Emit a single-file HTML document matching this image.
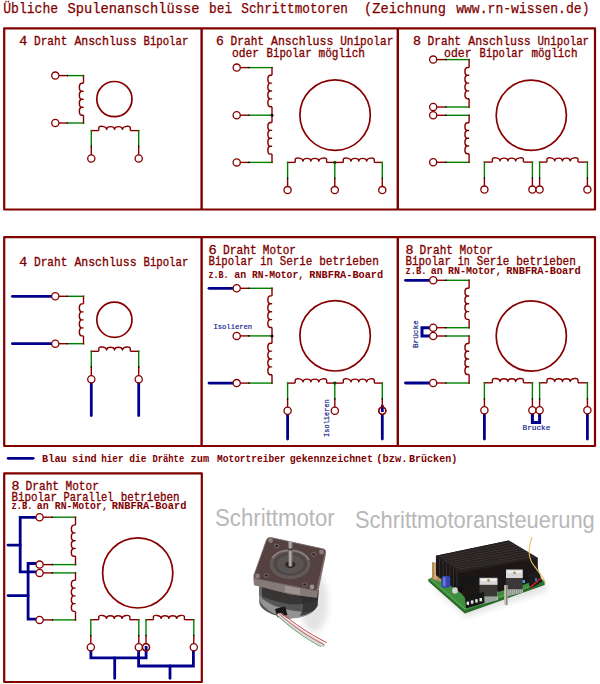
<!DOCTYPE html>
<html><head><meta charset="utf-8"><style>
html,body{margin:0;padding:0;background:#fff;width:600px;height:684px;overflow:hidden}
svg{display:block}
</style></head><body>
<svg width="600" height="684" viewBox="0 0 600 684">
<text x="3.2" y="13.2" font-family="'Liberation Mono', monospace" font-size="15.4" font-weight="normal" fill="#800000" stroke="#800000" stroke-width="0.25" textLength="55.0" lengthAdjust="spacingAndGlyphs" >Übliche</text>
<text x="67.6" y="13.2" font-family="'Liberation Mono', monospace" font-size="15.4" font-weight="normal" fill="#800000" stroke="#800000" stroke-width="0.25" textLength="131.9" lengthAdjust="spacingAndGlyphs" >Spulenanschlüsse</text>
<text x="209.0" y="13.2" font-family="'Liberation Mono', monospace" font-size="15.4" font-weight="normal" fill="#800000" stroke="#800000" stroke-width="0.25" textLength="23.2" lengthAdjust="spacingAndGlyphs" >bei</text>
<text x="241.3" y="13.2" font-family="'Liberation Mono', monospace" font-size="15.4" font-weight="normal" fill="#800000" stroke="#800000" stroke-width="0.25" textLength="106.7" lengthAdjust="spacingAndGlyphs" >Schrittmotoren</text>
<text x="364.1" y="13.2" font-family="'Liberation Mono', monospace" font-size="15.4" font-weight="normal" fill="#800000" stroke="#800000" stroke-width="0.25" textLength="81.9" lengthAdjust="spacingAndGlyphs" >(Zeichnung</text>
<text x="456.2" y="13.2" font-family="'Liberation Mono', monospace" font-size="15.4" font-weight="normal" fill="#800000" stroke="#800000" stroke-width="0.25" textLength="133.3" lengthAdjust="spacingAndGlyphs" >www.rn-wissen.de)</text>
<rect x="4.2" y="28.3" width="590.8" height="181.2" fill="none" stroke="#800000" stroke-width="2.2" stroke-linejoin="round"/>
<line x1="201.60" y1="28.30" x2="201.60" y2="209.50" stroke="#800000" stroke-width="2.4" stroke-linecap="butt"/>
<line x1="397.80" y1="28.30" x2="397.80" y2="209.50" stroke="#800000" stroke-width="2.4" stroke-linecap="butt"/>
<text x="19.2" y="45.1" font-family="'Liberation Mono', monospace" font-size="12.4" font-weight="normal" fill="#800000" stroke="#800000" stroke-width="0.32" textLength="8.0" lengthAdjust="spacingAndGlyphs" >4</text>
<text x="34.0" y="45.1" font-family="'Liberation Mono', monospace" font-size="12.4" font-weight="normal" fill="#800000" stroke="#800000" stroke-width="0.32" textLength="33.3" lengthAdjust="spacingAndGlyphs" >Draht</text>
<text x="74.4" y="45.1" font-family="'Liberation Mono', monospace" font-size="12.4" font-weight="normal" fill="#800000" stroke="#800000" stroke-width="0.32" textLength="62.2" lengthAdjust="spacingAndGlyphs" >Anschluss</text>
<text x="143.5" y="45.1" font-family="'Liberation Mono', monospace" font-size="12.4" font-weight="normal" fill="#800000" stroke="#800000" stroke-width="0.32" textLength="44.8" lengthAdjust="spacingAndGlyphs" >Bipolar</text>
<text x="215.9" y="45.2" font-family="'Liberation Mono', monospace" font-size="12.4" font-weight="normal" fill="#800000" stroke="#800000" stroke-width="0.32" textLength="7.8" lengthAdjust="spacingAndGlyphs" >6</text>
<text x="230.6" y="45.2" font-family="'Liberation Mono', monospace" font-size="12.4" font-weight="normal" fill="#800000" stroke="#800000" stroke-width="0.32" textLength="33.4" lengthAdjust="spacingAndGlyphs" >Draht</text>
<text x="271.0" y="45.2" font-family="'Liberation Mono', monospace" font-size="12.4" font-weight="normal" fill="#800000" stroke="#800000" stroke-width="0.32" textLength="62.3" lengthAdjust="spacingAndGlyphs" >Anschluss</text>
<text x="340.2" y="45.2" font-family="'Liberation Mono', monospace" font-size="12.4" font-weight="normal" fill="#800000" stroke="#800000" stroke-width="0.32" textLength="53.1" lengthAdjust="spacingAndGlyphs" >Unipolar</text>
<text x="231.9" y="57.0" font-family="'Liberation Mono', monospace" font-size="12.4" font-weight="normal" fill="#800000" stroke="#800000" stroke-width="0.32" textLength="27.2" lengthAdjust="spacingAndGlyphs" >oder</text>
<text x="266.5" y="57.0" font-family="'Liberation Mono', monospace" font-size="12.4" font-weight="normal" fill="#800000" stroke="#800000" stroke-width="0.32" textLength="45.1" lengthAdjust="spacingAndGlyphs" >Bipolar</text>
<text x="318.5" y="57.0" font-family="'Liberation Mono', monospace" font-size="12.4" font-weight="normal" fill="#800000" stroke="#800000" stroke-width="0.32" textLength="46.5" lengthAdjust="spacingAndGlyphs" >möglich</text>
<text x="413.0" y="45.4" font-family="'Liberation Mono', monospace" font-size="12.4" font-weight="normal" fill="#800000" stroke="#800000" stroke-width="0.32" textLength="8.0" lengthAdjust="spacingAndGlyphs" >8</text>
<text x="427.6" y="45.4" font-family="'Liberation Mono', monospace" font-size="12.4" font-weight="normal" fill="#800000" stroke="#800000" stroke-width="0.32" textLength="33.4" lengthAdjust="spacingAndGlyphs" >Draht</text>
<text x="468.2" y="45.4" font-family="'Liberation Mono', monospace" font-size="12.4" font-weight="normal" fill="#800000" stroke="#800000" stroke-width="0.32" textLength="62.6" lengthAdjust="spacingAndGlyphs" >Anschluss</text>
<text x="537.4" y="45.4" font-family="'Liberation Mono', monospace" font-size="12.4" font-weight="normal" fill="#800000" stroke="#800000" stroke-width="0.32" textLength="51.7" lengthAdjust="spacingAndGlyphs" >Unipolar</text>
<text x="444.1" y="57.4" font-family="'Liberation Mono', monospace" font-size="12.4" font-weight="normal" fill="#800000" stroke="#800000" stroke-width="0.32" textLength="27.5" lengthAdjust="spacingAndGlyphs" >oder</text>
<text x="479.6" y="57.4" font-family="'Liberation Mono', monospace" font-size="12.4" font-weight="normal" fill="#800000" stroke="#800000" stroke-width="0.32" textLength="44.3" lengthAdjust="spacingAndGlyphs" >Bipolar</text>
<text x="531.4" y="57.4" font-family="'Liberation Mono', monospace" font-size="12.4" font-weight="normal" fill="#800000" stroke="#800000" stroke-width="0.32" textLength="46.1" lengthAdjust="spacingAndGlyphs" >möglich</text>
<line x1="58.80" y1="75.60" x2="67.50" y2="75.60" stroke="#870000" stroke-width="1.4" stroke-linecap="butt"/>
<line x1="67.50" y1="75.60" x2="84.20" y2="75.60" stroke="#008000" stroke-width="1.4" stroke-linecap="butt"/>
<circle cx="67.50" cy="75.60" r="0.8" fill="#000"/>
<line x1="58.80" y1="123.00" x2="67.50" y2="123.00" stroke="#870000" stroke-width="1.4" stroke-linecap="butt"/>
<line x1="67.50" y1="123.00" x2="84.20" y2="123.00" stroke="#008000" stroke-width="1.4" stroke-linecap="butt"/>
<circle cx="67.50" cy="123.00" r="0.8" fill="#000"/>
<line x1="83.50" y1="74.90" x2="83.50" y2="83.20" stroke="#870000" stroke-width="1.4" stroke-linecap="butt"/>
<path d="M83.50,83.20 L81.50,83.20 C78.60,83.80 78.60,90.60 81.50,91.20 L83.10,91.20 L81.50,91.20 C78.60,91.80 78.60,98.60 81.50,99.20 L83.10,99.20 L81.50,99.20 C78.60,99.80 78.60,106.60 81.50,107.20 L83.10,107.20 L81.50,107.20 C78.60,107.80 78.60,114.60 81.50,115.20 L83.50,115.20" fill="none" stroke="#870000" stroke-width="1.4" stroke-linejoin="round"/>
<line x1="83.50" y1="115.20" x2="83.50" y2="123.70" stroke="#870000" stroke-width="1.4" stroke-linecap="butt"/>
<circle cx="55.30" cy="75.60" r="3.6" fill="#fff" stroke="#870000" stroke-width="1.3"/>
<circle cx="55.30" cy="123.00" r="3.6" fill="#fff" stroke="#870000" stroke-width="1.3"/>
<circle cx="114.40" cy="99.10" r="17.6" fill="none" stroke="#870000" stroke-width="1.7"/>
<line x1="90.60" y1="130.60" x2="98.80" y2="130.60" stroke="#870000" stroke-width="1.4" stroke-linecap="butt"/>
<path d="M98.80,130.60 L98.80,127.40 C99.20,125.70 106.27,125.70 106.67,129.30 C107.08,125.70 114.15,125.70 114.55,129.30 C114.95,125.70 122.02,125.70 122.42,129.30 C122.83,125.70 129.90,125.70 130.30,127.40 L130.30,130.60" fill="none" stroke="#870000" stroke-width="1.4" stroke-linejoin="round"/>
<line x1="130.30" y1="130.60" x2="139.40" y2="130.60" stroke="#870000" stroke-width="1.4" stroke-linecap="butt"/>
<line x1="91.30" y1="129.90" x2="91.30" y2="146.20" stroke="#008000" stroke-width="1.4" stroke-linecap="butt"/>
<line x1="91.30" y1="146.20" x2="91.30" y2="155.00" stroke="#870000" stroke-width="1.4" stroke-linecap="butt"/>
<circle cx="91.30" cy="146.20" r="0.8" fill="#000"/>
<circle cx="91.30" cy="158.50" r="3.6" fill="#fff" stroke="#870000" stroke-width="1.3"/>
<line x1="138.70" y1="129.90" x2="138.70" y2="146.20" stroke="#008000" stroke-width="1.4" stroke-linecap="butt"/>
<line x1="138.70" y1="146.20" x2="138.70" y2="155.00" stroke="#870000" stroke-width="1.4" stroke-linecap="butt"/>
<circle cx="138.70" cy="146.20" r="0.8" fill="#000"/>
<circle cx="138.70" cy="158.50" r="3.6" fill="#fff" stroke="#870000" stroke-width="1.3"/>
<line x1="240.20" y1="67.60" x2="249.00" y2="67.60" stroke="#870000" stroke-width="1.4" stroke-linecap="butt"/>
<line x1="249.00" y1="67.60" x2="272.70" y2="67.60" stroke="#008000" stroke-width="1.4" stroke-linecap="butt"/>
<circle cx="249.00" cy="67.60" r="0.8" fill="#000"/>
<line x1="240.20" y1="115.20" x2="249.00" y2="115.20" stroke="#870000" stroke-width="1.4" stroke-linecap="butt"/>
<line x1="249.00" y1="115.20" x2="272.70" y2="115.20" stroke="#008000" stroke-width="1.4" stroke-linecap="butt"/>
<circle cx="249.00" cy="115.20" r="0.8" fill="#000"/>
<line x1="240.20" y1="162.40" x2="249.00" y2="162.40" stroke="#870000" stroke-width="1.4" stroke-linecap="butt"/>
<line x1="249.00" y1="162.40" x2="272.70" y2="162.40" stroke="#008000" stroke-width="1.4" stroke-linecap="butt"/>
<circle cx="249.00" cy="162.40" r="0.8" fill="#000"/>
<line x1="272.00" y1="66.90" x2="272.00" y2="75.20" stroke="#870000" stroke-width="1.4" stroke-linecap="butt"/>
<path d="M272.00,75.20 L270.00,75.20 C267.10,75.80 267.10,82.50 270.00,83.10 L271.60,83.10 L270.00,83.10 C267.10,83.70 267.10,90.40 270.00,91.00 L271.60,91.00 L270.00,91.00 C267.10,91.60 267.10,98.30 270.00,98.90 L271.60,98.90 L270.00,98.90 C267.10,99.50 267.10,106.20 270.00,106.80 L272.00,106.80" fill="none" stroke="#870000" stroke-width="1.4" stroke-linejoin="round"/>
<line x1="272.00" y1="106.80" x2="272.00" y2="122.50" stroke="#870000" stroke-width="1.4" stroke-linecap="butt"/>
<path d="M272.00,122.50 L270.00,122.50 C267.10,123.10 267.10,129.80 270.00,130.40 L271.60,130.40 L270.00,130.40 C267.10,131.00 267.10,137.70 270.00,138.30 L271.60,138.30 L270.00,138.30 C267.10,138.90 267.10,145.60 270.00,146.20 L271.60,146.20 L270.00,146.20 C267.10,146.80 267.10,153.50 270.00,154.10 L272.00,154.10" fill="none" stroke="#870000" stroke-width="1.4" stroke-linejoin="round"/>
<line x1="272.00" y1="154.10" x2="272.00" y2="163.10" stroke="#870000" stroke-width="1.4" stroke-linecap="butt"/>
<circle cx="272.00" cy="115.20" r="1.5" fill="#000"/>
<circle cx="236.70" cy="67.60" r="3.6" fill="#fff" stroke="#870000" stroke-width="1.3"/>
<circle cx="236.70" cy="115.20" r="3.6" fill="#fff" stroke="#870000" stroke-width="1.3"/>
<circle cx="236.70" cy="162.40" r="3.6" fill="#fff" stroke="#870000" stroke-width="1.3"/>
<circle cx="335.10" cy="115.10" r="35.2" fill="none" stroke="#870000" stroke-width="1.7"/>
<line x1="286.90" y1="162.40" x2="295.20" y2="162.40" stroke="#870000" stroke-width="1.4" stroke-linecap="butt"/>
<path d="M295.20,162.40 L295.20,159.20 C295.60,157.50 302.65,157.50 303.05,161.10 C303.45,157.50 310.50,157.50 310.90,161.10 C311.30,157.50 318.35,157.50 318.75,161.10 C319.15,157.50 326.20,157.50 326.60,159.20 L326.60,162.40" fill="none" stroke="#870000" stroke-width="1.4" stroke-linejoin="round"/>
<line x1="326.60" y1="162.40" x2="343.30" y2="162.40" stroke="#870000" stroke-width="1.4" stroke-linecap="butt"/>
<path d="M343.30,162.40 L343.30,159.20 C343.70,157.50 350.65,157.50 351.05,161.10 C351.45,157.50 358.40,157.50 358.80,161.10 C359.20,157.50 366.15,157.50 366.55,161.10 C366.95,157.50 373.90,157.50 374.30,159.20 L374.30,162.40" fill="none" stroke="#870000" stroke-width="1.4" stroke-linejoin="round"/>
<line x1="374.30" y1="162.40" x2="383.00" y2="162.40" stroke="#870000" stroke-width="1.4" stroke-linecap="butt"/>
<circle cx="334.80" cy="162.40" r="1.5" fill="#000"/>
<line x1="287.60" y1="161.70" x2="287.60" y2="178.20" stroke="#008000" stroke-width="1.4" stroke-linecap="butt"/>
<line x1="287.60" y1="178.20" x2="287.60" y2="186.60" stroke="#870000" stroke-width="1.4" stroke-linecap="butt"/>
<circle cx="287.60" cy="178.20" r="0.8" fill="#000"/>
<circle cx="287.60" cy="190.10" r="3.6" fill="#fff" stroke="#870000" stroke-width="1.3"/>
<line x1="334.80" y1="161.70" x2="334.80" y2="178.20" stroke="#008000" stroke-width="1.4" stroke-linecap="butt"/>
<line x1="334.80" y1="178.20" x2="334.80" y2="186.60" stroke="#870000" stroke-width="1.4" stroke-linecap="butt"/>
<circle cx="334.80" cy="178.20" r="0.8" fill="#000"/>
<circle cx="334.80" cy="190.10" r="3.6" fill="#fff" stroke="#870000" stroke-width="1.3"/>
<line x1="382.30" y1="161.70" x2="382.30" y2="178.20" stroke="#008000" stroke-width="1.4" stroke-linecap="butt"/>
<line x1="382.30" y1="178.20" x2="382.30" y2="186.60" stroke="#870000" stroke-width="1.4" stroke-linecap="butt"/>
<circle cx="382.30" cy="178.20" r="0.8" fill="#000"/>
<circle cx="382.30" cy="190.10" r="3.6" fill="#fff" stroke="#870000" stroke-width="1.3"/>
<line x1="436.70" y1="59.60" x2="446.00" y2="59.60" stroke="#870000" stroke-width="1.4" stroke-linecap="butt"/>
<line x1="446.00" y1="59.60" x2="469.80" y2="59.60" stroke="#008000" stroke-width="1.4" stroke-linecap="butt"/>
<circle cx="446.00" cy="59.60" r="0.8" fill="#000"/>
<line x1="436.70" y1="107.00" x2="446.00" y2="107.00" stroke="#870000" stroke-width="1.4" stroke-linecap="butt"/>
<line x1="446.00" y1="107.00" x2="469.80" y2="107.00" stroke="#008000" stroke-width="1.4" stroke-linecap="butt"/>
<circle cx="446.00" cy="107.00" r="0.8" fill="#000"/>
<line x1="436.70" y1="115.30" x2="446.00" y2="115.30" stroke="#870000" stroke-width="1.4" stroke-linecap="butt"/>
<line x1="446.00" y1="115.30" x2="469.80" y2="115.30" stroke="#008000" stroke-width="1.4" stroke-linecap="butt"/>
<circle cx="446.00" cy="115.30" r="0.8" fill="#000"/>
<line x1="436.70" y1="162.30" x2="446.00" y2="162.30" stroke="#870000" stroke-width="1.4" stroke-linecap="butt"/>
<line x1="446.00" y1="162.30" x2="469.80" y2="162.30" stroke="#008000" stroke-width="1.4" stroke-linecap="butt"/>
<circle cx="446.00" cy="162.30" r="0.8" fill="#000"/>
<line x1="469.10" y1="58.90" x2="469.10" y2="67.50" stroke="#870000" stroke-width="1.4" stroke-linecap="butt"/>
<path d="M469.10,67.50 L467.10,67.50 C464.20,68.10 464.20,74.70 467.10,75.30 L468.70,75.30 L467.10,75.30 C464.20,75.90 464.20,82.50 467.10,83.10 L468.70,83.10 L467.10,83.10 C464.20,83.70 464.20,90.30 467.10,90.90 L468.70,90.90 L467.10,90.90 C464.20,91.50 464.20,98.10 467.10,98.70 L469.10,98.70" fill="none" stroke="#870000" stroke-width="1.4" stroke-linejoin="round"/>
<line x1="469.10" y1="98.70" x2="469.10" y2="107.70" stroke="#870000" stroke-width="1.4" stroke-linecap="butt"/>
<line x1="469.10" y1="114.60" x2="469.10" y2="122.80" stroke="#870000" stroke-width="1.4" stroke-linecap="butt"/>
<path d="M469.10,122.80 L467.10,122.80 C464.20,123.40 464.20,129.95 467.10,130.55 L468.70,130.55 L467.10,130.55 C464.20,131.15 464.20,137.70 467.10,138.30 L468.70,138.30 L467.10,138.30 C464.20,138.90 464.20,145.45 467.10,146.05 L468.70,146.05 L467.10,146.05 C464.20,146.65 464.20,153.20 467.10,153.80 L469.10,153.80" fill="none" stroke="#870000" stroke-width="1.4" stroke-linejoin="round"/>
<line x1="469.10" y1="153.80" x2="469.10" y2="163.00" stroke="#870000" stroke-width="1.4" stroke-linecap="butt"/>
<circle cx="433.20" cy="59.60" r="3.6" fill="#fff" stroke="#870000" stroke-width="1.3"/>
<circle cx="433.20" cy="107.00" r="3.6" fill="#fff" stroke="#870000" stroke-width="1.3"/>
<circle cx="433.20" cy="115.30" r="3.6" fill="#fff" stroke="#870000" stroke-width="1.3"/>
<circle cx="433.20" cy="162.30" r="3.6" fill="#fff" stroke="#870000" stroke-width="1.3"/>
<circle cx="531.30" cy="115.30" r="35.1" fill="none" stroke="#870000" stroke-width="1.7"/>
<line x1="483.70" y1="162.10" x2="492.40" y2="162.10" stroke="#870000" stroke-width="1.4" stroke-linecap="butt"/>
<path d="M492.40,162.10 L492.40,158.90 C492.80,157.20 499.75,157.20 500.15,160.80 C500.55,157.20 507.50,157.20 507.90,160.80 C508.30,157.20 515.25,157.20 515.65,160.80 C516.05,157.20 523.00,157.20 523.40,158.90 L523.40,162.10" fill="none" stroke="#870000" stroke-width="1.4" stroke-linejoin="round"/>
<line x1="523.40" y1="162.10" x2="533.10" y2="162.10" stroke="#870000" stroke-width="1.4" stroke-linecap="butt"/>
<line x1="538.90" y1="162.10" x2="547.00" y2="162.10" stroke="#870000" stroke-width="1.4" stroke-linecap="butt"/>
<path d="M547.00,162.10 L547.00,158.90 C547.40,157.20 554.35,157.20 554.75,160.80 C555.15,157.20 562.10,157.20 562.50,160.80 C562.90,157.20 569.85,157.20 570.25,160.80 C570.65,157.20 577.60,157.20 578.00,158.90 L578.00,162.10" fill="none" stroke="#870000" stroke-width="1.4" stroke-linejoin="round"/>
<line x1="578.00" y1="162.10" x2="588.10" y2="162.10" stroke="#870000" stroke-width="1.4" stroke-linecap="butt"/>
<line x1="484.40" y1="161.40" x2="484.40" y2="178.00" stroke="#008000" stroke-width="1.4" stroke-linecap="butt"/>
<line x1="484.40" y1="178.00" x2="484.40" y2="186.10" stroke="#870000" stroke-width="1.4" stroke-linecap="butt"/>
<circle cx="484.40" cy="178.00" r="0.8" fill="#000"/>
<circle cx="484.40" cy="189.60" r="3.6" fill="#fff" stroke="#870000" stroke-width="1.3"/>
<line x1="532.40" y1="161.40" x2="532.40" y2="178.00" stroke="#008000" stroke-width="1.4" stroke-linecap="butt"/>
<line x1="532.40" y1="178.00" x2="532.40" y2="186.10" stroke="#870000" stroke-width="1.4" stroke-linecap="butt"/>
<circle cx="532.40" cy="178.00" r="0.8" fill="#000"/>
<circle cx="532.40" cy="189.60" r="3.6" fill="#fff" stroke="#870000" stroke-width="1.3"/>
<line x1="539.60" y1="161.40" x2="539.60" y2="178.00" stroke="#008000" stroke-width="1.4" stroke-linecap="butt"/>
<line x1="539.60" y1="178.00" x2="539.60" y2="186.10" stroke="#870000" stroke-width="1.4" stroke-linecap="butt"/>
<circle cx="539.60" cy="178.00" r="0.8" fill="#000"/>
<circle cx="539.60" cy="189.60" r="3.6" fill="#fff" stroke="#870000" stroke-width="1.3"/>
<line x1="587.40" y1="161.40" x2="587.40" y2="178.00" stroke="#008000" stroke-width="1.4" stroke-linecap="butt"/>
<line x1="587.40" y1="178.00" x2="587.40" y2="186.10" stroke="#870000" stroke-width="1.4" stroke-linecap="butt"/>
<circle cx="587.40" cy="178.00" r="0.8" fill="#000"/>
<circle cx="587.40" cy="189.60" r="3.6" fill="#fff" stroke="#870000" stroke-width="1.3"/>
<rect x="4.2" y="237.2" width="590.8" height="208.8" fill="none" stroke="#800000" stroke-width="2.2" stroke-linejoin="round"/>
<line x1="201.60" y1="237.20" x2="201.60" y2="446.00" stroke="#800000" stroke-width="2.4" stroke-linecap="butt"/>
<line x1="397.80" y1="237.20" x2="397.80" y2="446.00" stroke="#800000" stroke-width="2.4" stroke-linecap="butt"/>
<text x="19.2" y="265.9" font-family="'Liberation Mono', monospace" font-size="12.4" font-weight="normal" fill="#800000" stroke="#800000" stroke-width="0.32" textLength="8.0" lengthAdjust="spacingAndGlyphs" >4</text>
<text x="34.0" y="265.9" font-family="'Liberation Mono', monospace" font-size="12.4" font-weight="normal" fill="#800000" stroke="#800000" stroke-width="0.32" textLength="33.3" lengthAdjust="spacingAndGlyphs" >Draht</text>
<text x="74.4" y="265.9" font-family="'Liberation Mono', monospace" font-size="12.4" font-weight="normal" fill="#800000" stroke="#800000" stroke-width="0.32" textLength="62.2" lengthAdjust="spacingAndGlyphs" >Anschluss</text>
<text x="143.5" y="265.9" font-family="'Liberation Mono', monospace" font-size="12.4" font-weight="normal" fill="#800000" stroke="#800000" stroke-width="0.32" textLength="44.8" lengthAdjust="spacingAndGlyphs" >Bipolar</text>
<text x="208.4" y="254.0" font-family="'Liberation Mono', monospace" font-size="12.4" font-weight="normal" fill="#800000" stroke="#800000" stroke-width="0.32" textLength="8.2" lengthAdjust="spacingAndGlyphs" >6</text>
<text x="223.0" y="254.0" font-family="'Liberation Mono', monospace" font-size="12.4" font-weight="normal" fill="#800000" stroke="#800000" stroke-width="0.32" textLength="33.8" lengthAdjust="spacingAndGlyphs" >Draht</text>
<text x="262.8" y="254.0" font-family="'Liberation Mono', monospace" font-size="12.4" font-weight="normal" fill="#800000" stroke="#800000" stroke-width="0.32" textLength="33.1" lengthAdjust="spacingAndGlyphs" >Motor</text>
<text x="208.5" y="265.2" font-family="'Liberation Mono', monospace" font-size="12.4" font-weight="normal" fill="#800000" stroke="#800000" stroke-width="0.32" textLength="44.8" lengthAdjust="spacingAndGlyphs" >Bipolar</text>
<text x="260.2" y="265.2" font-family="'Liberation Mono', monospace" font-size="12.4" font-weight="normal" fill="#800000" stroke="#800000" stroke-width="0.32" textLength="12.5" lengthAdjust="spacingAndGlyphs" >in</text>
<text x="279.7" y="265.2" font-family="'Liberation Mono', monospace" font-size="12.4" font-weight="normal" fill="#800000" stroke="#800000" stroke-width="0.32" textLength="32.6" lengthAdjust="spacingAndGlyphs" >Serie</text>
<text x="319.2" y="265.2" font-family="'Liberation Mono', monospace" font-size="12.4" font-weight="normal" fill="#800000" stroke="#800000" stroke-width="0.32" textLength="59.6" lengthAdjust="spacingAndGlyphs" >betrieben</text>
<text x="208.6" y="277.9" font-family="'Liberation Mono', monospace" font-size="10.2" font-weight="bold" fill="#800000" textLength="20.0" lengthAdjust="spacingAndGlyphs" >z.B.</text>
<text x="234.2" y="277.9" font-family="'Liberation Mono', monospace" font-size="10.2" font-weight="bold" fill="#800000" textLength="11.9" lengthAdjust="spacingAndGlyphs" >an</text>
<text x="251.9" y="277.9" font-family="'Liberation Mono', monospace" font-size="10.2" font-weight="bold" fill="#800000" textLength="52.1" lengthAdjust="spacingAndGlyphs" >RN-Motor,</text>
<text x="309.3" y="277.9" font-family="'Liberation Mono', monospace" font-size="10.2" font-weight="bold" fill="#800000" textLength="73.9" lengthAdjust="spacingAndGlyphs" >RNBFRA-Board</text>
<text x="405.5" y="254.2" font-family="'Liberation Mono', monospace" font-size="12.4" font-weight="normal" fill="#800000" stroke="#800000" stroke-width="0.32" textLength="8.0" lengthAdjust="spacingAndGlyphs" >8</text>
<text x="419.6" y="254.2" font-family="'Liberation Mono', monospace" font-size="12.4" font-weight="normal" fill="#800000" stroke="#800000" stroke-width="0.32" textLength="33.4" lengthAdjust="spacingAndGlyphs" >Draht</text>
<text x="459.5" y="254.2" font-family="'Liberation Mono', monospace" font-size="12.4" font-weight="normal" fill="#800000" stroke="#800000" stroke-width="0.32" textLength="33.4" lengthAdjust="spacingAndGlyphs" >Motor</text>
<text x="405.5" y="265.0" font-family="'Liberation Mono', monospace" font-size="12.4" font-weight="normal" fill="#800000" stroke="#800000" stroke-width="0.32" textLength="45.6" lengthAdjust="spacingAndGlyphs" >Bipolar</text>
<text x="457.8" y="265.0" font-family="'Liberation Mono', monospace" font-size="12.4" font-weight="normal" fill="#800000" stroke="#800000" stroke-width="0.32" textLength="12.0" lengthAdjust="spacingAndGlyphs" >in</text>
<text x="476.7" y="265.0" font-family="'Liberation Mono', monospace" font-size="12.4" font-weight="normal" fill="#800000" stroke="#800000" stroke-width="0.32" textLength="32.6" lengthAdjust="spacingAndGlyphs" >Serie</text>
<text x="516.2" y="265.0" font-family="'Liberation Mono', monospace" font-size="12.4" font-weight="normal" fill="#800000" stroke="#800000" stroke-width="0.32" textLength="59.6" lengthAdjust="spacingAndGlyphs" >betrieben</text>
<text x="405.6" y="274.0" font-family="'Liberation Mono', monospace" font-size="10.2" font-weight="bold" fill="#800000" textLength="20.9" lengthAdjust="spacingAndGlyphs" >z.B.</text>
<text x="430.7" y="274.0" font-family="'Liberation Mono', monospace" font-size="10.2" font-weight="bold" fill="#800000" textLength="11.9" lengthAdjust="spacingAndGlyphs" >an</text>
<text x="448.0" y="274.0" font-family="'Liberation Mono', monospace" font-size="10.2" font-weight="bold" fill="#800000" textLength="53.8" lengthAdjust="spacingAndGlyphs" >RN-Motor,</text>
<text x="506.3" y="274.0" font-family="'Liberation Mono', monospace" font-size="10.2" font-weight="bold" fill="#800000" textLength="74.4" lengthAdjust="spacingAndGlyphs" >RNBFRA-Board</text>
<path d="M12.40,296.30 L52.00,296.30" fill="none" stroke="#00008c" stroke-width="2.8" stroke-linecap="round" stroke-linejoin="round"/>
<path d="M12.40,343.70 L52.00,343.70" fill="none" stroke="#00008c" stroke-width="2.8" stroke-linecap="round" stroke-linejoin="round"/>
<path d="M91.30,381.70 L91.30,415.50" fill="none" stroke="#00008c" stroke-width="2.8" stroke-linecap="round" stroke-linejoin="round"/>
<path d="M138.70,381.70 L138.70,415.50" fill="none" stroke="#00008c" stroke-width="2.8" stroke-linecap="round" stroke-linejoin="round"/>
<path d="M209.00,288.30 L233.00,288.30" fill="none" stroke="#00008c" stroke-width="2.8" stroke-linecap="round" stroke-linejoin="round"/>
<path d="M209.00,383.10 L233.00,383.10" fill="none" stroke="#00008c" stroke-width="2.8" stroke-linecap="round" stroke-linejoin="round"/>
<path d="M287.60,411.00 L287.60,439.00" fill="none" stroke="#00008c" stroke-width="2.8" stroke-linecap="round" stroke-linejoin="round"/>
<path d="M382.30,406.00 L382.30,439.00" fill="none" stroke="#00008c" stroke-width="2.8" stroke-linecap="round" stroke-linejoin="round"/>
<path d="M405.50,280.30 L430.00,280.30" fill="none" stroke="#00008c" stroke-width="2.8" stroke-linecap="round" stroke-linejoin="round"/>
<path d="M405.50,383.00 L430.00,383.00" fill="none" stroke="#00008c" stroke-width="2.8" stroke-linecap="round" stroke-linejoin="round"/>
<path d="M430.00,327.70 L422.00,327.70 L422.00,336.00 L430.00,336.00" fill="none" stroke="#00008c" stroke-width="3.0" stroke-linecap="butt" stroke-linejoin="miter"/>
<path d="M484.40,411.00 L484.40,439.00" fill="none" stroke="#00008c" stroke-width="2.8" stroke-linecap="round" stroke-linejoin="round"/>
<path d="M587.40,411.00 L587.40,439.00" fill="none" stroke="#00008c" stroke-width="2.8" stroke-linecap="round" stroke-linejoin="round"/>
<path d="M532.40,412.00 L532.40,422.50 L539.60,422.50 L539.60,412.00" fill="none" stroke="#00008c" stroke-width="3.0" stroke-linecap="butt" stroke-linejoin="miter"/>
<line x1="58.80" y1="296.30" x2="67.50" y2="296.30" stroke="#870000" stroke-width="1.4" stroke-linecap="butt"/>
<line x1="67.50" y1="296.30" x2="84.20" y2="296.30" stroke="#008000" stroke-width="1.4" stroke-linecap="butt"/>
<circle cx="67.50" cy="296.30" r="0.8" fill="#000"/>
<line x1="58.80" y1="343.70" x2="67.50" y2="343.70" stroke="#870000" stroke-width="1.4" stroke-linecap="butt"/>
<line x1="67.50" y1="343.70" x2="84.20" y2="343.70" stroke="#008000" stroke-width="1.4" stroke-linecap="butt"/>
<circle cx="67.50" cy="343.70" r="0.8" fill="#000"/>
<line x1="83.50" y1="295.60" x2="83.50" y2="303.90" stroke="#870000" stroke-width="1.4" stroke-linecap="butt"/>
<path d="M83.50,303.90 L81.50,303.90 C78.60,304.50 78.60,311.30 81.50,311.90 L83.10,311.90 L81.50,311.90 C78.60,312.50 78.60,319.30 81.50,319.90 L83.10,319.90 L81.50,319.90 C78.60,320.50 78.60,327.30 81.50,327.90 L83.10,327.90 L81.50,327.90 C78.60,328.50 78.60,335.30 81.50,335.90 L83.50,335.90" fill="none" stroke="#870000" stroke-width="1.4" stroke-linejoin="round"/>
<line x1="83.50" y1="335.90" x2="83.50" y2="344.40" stroke="#870000" stroke-width="1.4" stroke-linecap="butt"/>
<circle cx="55.30" cy="296.30" r="3.6" fill="#fff" stroke="#870000" stroke-width="1.3"/>
<circle cx="55.30" cy="343.70" r="3.6" fill="#fff" stroke="#870000" stroke-width="1.3"/>
<circle cx="114.40" cy="319.80" r="17.6" fill="none" stroke="#870000" stroke-width="1.7"/>
<line x1="90.60" y1="351.30" x2="98.80" y2="351.30" stroke="#870000" stroke-width="1.4" stroke-linecap="butt"/>
<path d="M98.80,351.30 L98.80,348.10 C99.20,346.40 106.27,346.40 106.67,350.00 C107.08,346.40 114.15,346.40 114.55,350.00 C114.95,346.40 122.02,346.40 122.42,350.00 C122.83,346.40 129.90,346.40 130.30,348.10 L130.30,351.30" fill="none" stroke="#870000" stroke-width="1.4" stroke-linejoin="round"/>
<line x1="130.30" y1="351.30" x2="139.40" y2="351.30" stroke="#870000" stroke-width="1.4" stroke-linecap="butt"/>
<line x1="91.30" y1="350.60" x2="91.30" y2="366.90" stroke="#008000" stroke-width="1.4" stroke-linecap="butt"/>
<line x1="91.30" y1="366.90" x2="91.30" y2="375.70" stroke="#870000" stroke-width="1.4" stroke-linecap="butt"/>
<circle cx="91.30" cy="366.90" r="0.8" fill="#000"/>
<circle cx="91.30" cy="379.20" r="3.6" fill="#fff" stroke="#870000" stroke-width="1.3"/>
<line x1="138.70" y1="350.60" x2="138.70" y2="366.90" stroke="#008000" stroke-width="1.4" stroke-linecap="butt"/>
<line x1="138.70" y1="366.90" x2="138.70" y2="375.70" stroke="#870000" stroke-width="1.4" stroke-linecap="butt"/>
<circle cx="138.70" cy="366.90" r="0.8" fill="#000"/>
<circle cx="138.70" cy="379.20" r="3.6" fill="#fff" stroke="#870000" stroke-width="1.3"/>
<line x1="240.20" y1="288.30" x2="249.00" y2="288.30" stroke="#870000" stroke-width="1.4" stroke-linecap="butt"/>
<line x1="249.00" y1="288.30" x2="272.70" y2="288.30" stroke="#008000" stroke-width="1.4" stroke-linecap="butt"/>
<circle cx="249.00" cy="288.30" r="0.8" fill="#000"/>
<line x1="240.20" y1="335.90" x2="249.00" y2="335.90" stroke="#870000" stroke-width="1.4" stroke-linecap="butt"/>
<line x1="249.00" y1="335.90" x2="272.70" y2="335.90" stroke="#008000" stroke-width="1.4" stroke-linecap="butt"/>
<circle cx="249.00" cy="335.90" r="0.8" fill="#000"/>
<line x1="240.20" y1="383.10" x2="249.00" y2="383.10" stroke="#870000" stroke-width="1.4" stroke-linecap="butt"/>
<line x1="249.00" y1="383.10" x2="272.70" y2="383.10" stroke="#008000" stroke-width="1.4" stroke-linecap="butt"/>
<circle cx="249.00" cy="383.10" r="0.8" fill="#000"/>
<line x1="272.00" y1="287.60" x2="272.00" y2="295.90" stroke="#870000" stroke-width="1.4" stroke-linecap="butt"/>
<path d="M272.00,295.90 L270.00,295.90 C267.10,296.50 267.10,303.20 270.00,303.80 L271.60,303.80 L270.00,303.80 C267.10,304.40 267.10,311.10 270.00,311.70 L271.60,311.70 L270.00,311.70 C267.10,312.30 267.10,319.00 270.00,319.60 L271.60,319.60 L270.00,319.60 C267.10,320.20 267.10,326.90 270.00,327.50 L272.00,327.50" fill="none" stroke="#870000" stroke-width="1.4" stroke-linejoin="round"/>
<line x1="272.00" y1="327.50" x2="272.00" y2="343.20" stroke="#870000" stroke-width="1.4" stroke-linecap="butt"/>
<path d="M272.00,343.20 L270.00,343.20 C267.10,343.80 267.10,350.50 270.00,351.10 L271.60,351.10 L270.00,351.10 C267.10,351.70 267.10,358.40 270.00,359.00 L271.60,359.00 L270.00,359.00 C267.10,359.60 267.10,366.30 270.00,366.90 L271.60,366.90 L270.00,366.90 C267.10,367.50 267.10,374.20 270.00,374.80 L272.00,374.80" fill="none" stroke="#870000" stroke-width="1.4" stroke-linejoin="round"/>
<line x1="272.00" y1="374.80" x2="272.00" y2="383.80" stroke="#870000" stroke-width="1.4" stroke-linecap="butt"/>
<circle cx="272.00" cy="335.90" r="1.5" fill="#000"/>
<circle cx="236.70" cy="288.30" r="3.6" fill="#fff" stroke="#870000" stroke-width="1.3"/>
<circle cx="236.70" cy="335.90" r="3.6" fill="#fff" stroke="#870000" stroke-width="1.3"/>
<circle cx="236.70" cy="383.10" r="3.6" fill="#fff" stroke="#870000" stroke-width="1.3"/>
<circle cx="335.10" cy="335.80" r="35.2" fill="none" stroke="#870000" stroke-width="1.7"/>
<line x1="286.90" y1="383.10" x2="295.20" y2="383.10" stroke="#870000" stroke-width="1.4" stroke-linecap="butt"/>
<path d="M295.20,383.10 L295.20,379.90 C295.60,378.20 302.65,378.20 303.05,381.80 C303.45,378.20 310.50,378.20 310.90,381.80 C311.30,378.20 318.35,378.20 318.75,381.80 C319.15,378.20 326.20,378.20 326.60,379.90 L326.60,383.10" fill="none" stroke="#870000" stroke-width="1.4" stroke-linejoin="round"/>
<line x1="326.60" y1="383.10" x2="343.30" y2="383.10" stroke="#870000" stroke-width="1.4" stroke-linecap="butt"/>
<path d="M343.30,383.10 L343.30,379.90 C343.70,378.20 350.65,378.20 351.05,381.80 C351.45,378.20 358.40,378.20 358.80,381.80 C359.20,378.20 366.15,378.20 366.55,381.80 C366.95,378.20 373.90,378.20 374.30,379.90 L374.30,383.10" fill="none" stroke="#870000" stroke-width="1.4" stroke-linejoin="round"/>
<line x1="374.30" y1="383.10" x2="383.00" y2="383.10" stroke="#870000" stroke-width="1.4" stroke-linecap="butt"/>
<circle cx="334.80" cy="383.10" r="1.5" fill="#000"/>
<line x1="287.60" y1="382.40" x2="287.60" y2="398.90" stroke="#008000" stroke-width="1.4" stroke-linecap="butt"/>
<line x1="287.60" y1="398.90" x2="287.60" y2="407.30" stroke="#870000" stroke-width="1.4" stroke-linecap="butt"/>
<circle cx="287.60" cy="398.90" r="0.8" fill="#000"/>
<circle cx="287.60" cy="410.80" r="3.6" fill="#fff" stroke="#870000" stroke-width="1.3"/>
<line x1="334.80" y1="382.40" x2="334.80" y2="398.90" stroke="#008000" stroke-width="1.4" stroke-linecap="butt"/>
<line x1="334.80" y1="398.90" x2="334.80" y2="407.30" stroke="#870000" stroke-width="1.4" stroke-linecap="butt"/>
<circle cx="334.80" cy="398.90" r="0.8" fill="#000"/>
<circle cx="334.80" cy="410.80" r="3.6" fill="#fff" stroke="#870000" stroke-width="1.3"/>
<line x1="382.30" y1="382.40" x2="382.30" y2="398.90" stroke="#008000" stroke-width="1.4" stroke-linecap="butt"/>
<line x1="382.30" y1="398.90" x2="382.30" y2="407.30" stroke="#870000" stroke-width="1.4" stroke-linecap="butt"/>
<circle cx="382.30" cy="398.90" r="0.8" fill="#000"/>
<circle cx="382.30" cy="410.80" r="3.6" fill="#fff" stroke="#870000" stroke-width="1.3"/>
<line x1="436.70" y1="280.30" x2="446.00" y2="280.30" stroke="#870000" stroke-width="1.4" stroke-linecap="butt"/>
<line x1="446.00" y1="280.30" x2="469.80" y2="280.30" stroke="#008000" stroke-width="1.4" stroke-linecap="butt"/>
<circle cx="446.00" cy="280.30" r="0.8" fill="#000"/>
<line x1="436.70" y1="327.70" x2="446.00" y2="327.70" stroke="#870000" stroke-width="1.4" stroke-linecap="butt"/>
<line x1="446.00" y1="327.70" x2="469.80" y2="327.70" stroke="#008000" stroke-width="1.4" stroke-linecap="butt"/>
<circle cx="446.00" cy="327.70" r="0.8" fill="#000"/>
<line x1="436.70" y1="336.00" x2="446.00" y2="336.00" stroke="#870000" stroke-width="1.4" stroke-linecap="butt"/>
<line x1="446.00" y1="336.00" x2="469.80" y2="336.00" stroke="#008000" stroke-width="1.4" stroke-linecap="butt"/>
<circle cx="446.00" cy="336.00" r="0.8" fill="#000"/>
<line x1="436.70" y1="383.00" x2="446.00" y2="383.00" stroke="#870000" stroke-width="1.4" stroke-linecap="butt"/>
<line x1="446.00" y1="383.00" x2="469.80" y2="383.00" stroke="#008000" stroke-width="1.4" stroke-linecap="butt"/>
<circle cx="446.00" cy="383.00" r="0.8" fill="#000"/>
<line x1="469.10" y1="279.60" x2="469.10" y2="288.20" stroke="#870000" stroke-width="1.4" stroke-linecap="butt"/>
<path d="M469.10,288.20 L467.10,288.20 C464.20,288.80 464.20,295.40 467.10,296.00 L468.70,296.00 L467.10,296.00 C464.20,296.60 464.20,303.20 467.10,303.80 L468.70,303.80 L467.10,303.80 C464.20,304.40 464.20,311.00 467.10,311.60 L468.70,311.60 L467.10,311.60 C464.20,312.20 464.20,318.80 467.10,319.40 L469.10,319.40" fill="none" stroke="#870000" stroke-width="1.4" stroke-linejoin="round"/>
<line x1="469.10" y1="319.40" x2="469.10" y2="328.40" stroke="#870000" stroke-width="1.4" stroke-linecap="butt"/>
<line x1="469.10" y1="335.30" x2="469.10" y2="343.50" stroke="#870000" stroke-width="1.4" stroke-linecap="butt"/>
<path d="M469.10,343.50 L467.10,343.50 C464.20,344.10 464.20,350.65 467.10,351.25 L468.70,351.25 L467.10,351.25 C464.20,351.85 464.20,358.40 467.10,359.00 L468.70,359.00 L467.10,359.00 C464.20,359.60 464.20,366.15 467.10,366.75 L468.70,366.75 L467.10,366.75 C464.20,367.35 464.20,373.90 467.10,374.50 L469.10,374.50" fill="none" stroke="#870000" stroke-width="1.4" stroke-linejoin="round"/>
<line x1="469.10" y1="374.50" x2="469.10" y2="383.70" stroke="#870000" stroke-width="1.4" stroke-linecap="butt"/>
<circle cx="433.20" cy="280.30" r="3.6" fill="#fff" stroke="#870000" stroke-width="1.3"/>
<circle cx="433.20" cy="327.70" r="3.6" fill="#fff" stroke="#870000" stroke-width="1.3"/>
<circle cx="433.20" cy="336.00" r="3.6" fill="#fff" stroke="#870000" stroke-width="1.3"/>
<circle cx="433.20" cy="383.00" r="3.6" fill="#fff" stroke="#870000" stroke-width="1.3"/>
<circle cx="531.30" cy="336.00" r="35.1" fill="none" stroke="#870000" stroke-width="1.7"/>
<line x1="483.70" y1="382.80" x2="492.40" y2="382.80" stroke="#870000" stroke-width="1.4" stroke-linecap="butt"/>
<path d="M492.40,382.80 L492.40,379.60 C492.80,377.90 499.75,377.90 500.15,381.50 C500.55,377.90 507.50,377.90 507.90,381.50 C508.30,377.90 515.25,377.90 515.65,381.50 C516.05,377.90 523.00,377.90 523.40,379.60 L523.40,382.80" fill="none" stroke="#870000" stroke-width="1.4" stroke-linejoin="round"/>
<line x1="523.40" y1="382.80" x2="533.10" y2="382.80" stroke="#870000" stroke-width="1.4" stroke-linecap="butt"/>
<line x1="538.90" y1="382.80" x2="547.00" y2="382.80" stroke="#870000" stroke-width="1.4" stroke-linecap="butt"/>
<path d="M547.00,382.80 L547.00,379.60 C547.40,377.90 554.35,377.90 554.75,381.50 C555.15,377.90 562.10,377.90 562.50,381.50 C562.90,377.90 569.85,377.90 570.25,381.50 C570.65,377.90 577.60,377.90 578.00,379.60 L578.00,382.80" fill="none" stroke="#870000" stroke-width="1.4" stroke-linejoin="round"/>
<line x1="578.00" y1="382.80" x2="588.10" y2="382.80" stroke="#870000" stroke-width="1.4" stroke-linecap="butt"/>
<line x1="484.40" y1="382.10" x2="484.40" y2="398.70" stroke="#008000" stroke-width="1.4" stroke-linecap="butt"/>
<line x1="484.40" y1="398.70" x2="484.40" y2="406.80" stroke="#870000" stroke-width="1.4" stroke-linecap="butt"/>
<circle cx="484.40" cy="398.70" r="0.8" fill="#000"/>
<circle cx="484.40" cy="410.30" r="3.6" fill="#fff" stroke="#870000" stroke-width="1.3"/>
<line x1="532.40" y1="382.10" x2="532.40" y2="398.70" stroke="#008000" stroke-width="1.4" stroke-linecap="butt"/>
<line x1="532.40" y1="398.70" x2="532.40" y2="406.80" stroke="#870000" stroke-width="1.4" stroke-linecap="butt"/>
<circle cx="532.40" cy="398.70" r="0.8" fill="#000"/>
<circle cx="532.40" cy="410.30" r="3.6" fill="#fff" stroke="#870000" stroke-width="1.3"/>
<line x1="539.60" y1="382.10" x2="539.60" y2="398.70" stroke="#008000" stroke-width="1.4" stroke-linecap="butt"/>
<line x1="539.60" y1="398.70" x2="539.60" y2="406.80" stroke="#870000" stroke-width="1.4" stroke-linecap="butt"/>
<circle cx="539.60" cy="398.70" r="0.8" fill="#000"/>
<circle cx="539.60" cy="410.30" r="3.6" fill="#fff" stroke="#870000" stroke-width="1.3"/>
<line x1="587.40" y1="382.10" x2="587.40" y2="398.70" stroke="#008000" stroke-width="1.4" stroke-linecap="butt"/>
<line x1="587.40" y1="398.70" x2="587.40" y2="406.80" stroke="#870000" stroke-width="1.4" stroke-linecap="butt"/>
<circle cx="587.40" cy="398.70" r="0.8" fill="#000"/>
<circle cx="587.40" cy="410.30" r="3.6" fill="#fff" stroke="#870000" stroke-width="1.3"/>
<text x="213.4" y="328.9" font-family="'Liberation Mono', monospace" font-size="7.8" font-weight="normal" fill="#18248c" stroke="#18248c" stroke-width="0.2" textLength="38.8" lengthAdjust="spacingAndGlyphs" >Isolieren</text>
<text x="522.5" y="429.5" font-family="'Liberation Mono', monospace" font-size="7.8" font-weight="normal" fill="#18248c" stroke="#18248c" stroke-width="0.2" textLength="27.9" lengthAdjust="spacingAndGlyphs" >Brucke</text>
<text transform="translate(329.30,436.30) rotate(-90)" x="-0.59" y="0" font-family="Liberation Mono, monospace" font-size="7.8" fill="#18248c" stroke="#18248c" stroke-width="0.2" textLength="37.70" lengthAdjust="spacingAndGlyphs">Isolieren</text>
<text transform="translate(418.30,347.50) rotate(-90)" x="-0.51" y="0" font-family="Liberation Mono, monospace" font-size="7.8" fill="#18248c" stroke="#18248c" stroke-width="0.2" textLength="27.61" lengthAdjust="spacingAndGlyphs">Brücke</text>
<path d="M8.20,458.30 L33.20,458.30" fill="none" stroke="#00008c" stroke-width="2.8" stroke-linecap="round" stroke-linejoin="round"/>
<text x="42.1" y="462.4" font-family="'Liberation Mono', monospace" font-size="10.2" font-weight="bold" fill="#800000" textLength="24.7" lengthAdjust="spacingAndGlyphs" >Blau</text>
<text x="72.1" y="462.4" font-family="'Liberation Mono', monospace" font-size="10.2" font-weight="bold" fill="#800000" textLength="24.6" lengthAdjust="spacingAndGlyphs" >sind</text>
<text x="101.2" y="462.4" font-family="'Liberation Mono', monospace" font-size="10.2" font-weight="bold" fill="#800000" textLength="22.3" lengthAdjust="spacingAndGlyphs" >hier</text>
<text x="129.3" y="462.4" font-family="'Liberation Mono', monospace" font-size="10.2" font-weight="bold" fill="#800000" textLength="17.3" lengthAdjust="spacingAndGlyphs" >die</text>
<text x="152.4" y="462.4" font-family="'Liberation Mono', monospace" font-size="10.2" font-weight="bold" fill="#800000" textLength="31.8" lengthAdjust="spacingAndGlyphs" >Drähte</text>
<text x="190.6" y="462.4" font-family="'Liberation Mono', monospace" font-size="10.2" font-weight="bold" fill="#800000" textLength="18.6" lengthAdjust="spacingAndGlyphs" >zum</text>
<text x="217.0" y="462.4" font-family="'Liberation Mono', monospace" font-size="10.2" font-weight="bold" fill="#800000" textLength="68.6" lengthAdjust="spacingAndGlyphs" >Motortreiber</text>
<text x="289.8" y="462.4" font-family="'Liberation Mono', monospace" font-size="10.2" font-weight="bold" fill="#800000" textLength="83.1" lengthAdjust="spacingAndGlyphs" >gekennzeichnet</text>
<text x="376.3" y="462.4" font-family="'Liberation Mono', monospace" font-size="10.2" font-weight="bold" fill="#800000" textLength="31.1" lengthAdjust="spacingAndGlyphs" >(bzw.</text>
<text x="408.9" y="462.4" font-family="'Liberation Mono', monospace" font-size="10.2" font-weight="bold" fill="#800000" textLength="48.4" lengthAdjust="spacingAndGlyphs" >Brücken)</text>
<rect x="4.2" y="473.4" width="197.6" height="208.6" fill="none" stroke="#800000" stroke-width="2.2" stroke-linejoin="round"/>
<text x="11.5" y="489.6" font-family="'Liberation Mono', monospace" font-size="12.4" font-weight="normal" fill="#800000" stroke="#800000" stroke-width="0.32" textLength="8.0" lengthAdjust="spacingAndGlyphs" >8</text>
<text x="25.6" y="489.6" font-family="'Liberation Mono', monospace" font-size="12.4" font-weight="normal" fill="#800000" stroke="#800000" stroke-width="0.32" textLength="33.4" lengthAdjust="spacingAndGlyphs" >Draht</text>
<text x="65.5" y="489.6" font-family="'Liberation Mono', monospace" font-size="12.4" font-weight="normal" fill="#800000" stroke="#800000" stroke-width="0.32" textLength="33.4" lengthAdjust="spacingAndGlyphs" >Motor</text>
<text x="11.5" y="501.3" font-family="'Liberation Mono', monospace" font-size="12.4" font-weight="normal" fill="#800000" stroke="#800000" stroke-width="0.32" textLength="45.6" lengthAdjust="spacingAndGlyphs" >Bipolar</text>
<text x="63.4" y="501.3" font-family="'Liberation Mono', monospace" font-size="12.4" font-weight="normal" fill="#800000" stroke="#800000" stroke-width="0.32" textLength="50.1" lengthAdjust="spacingAndGlyphs" >Parallel</text>
<text x="120.7" y="501.3" font-family="'Liberation Mono', monospace" font-size="12.4" font-weight="normal" fill="#800000" stroke="#800000" stroke-width="0.32" textLength="58.9" lengthAdjust="spacingAndGlyphs" >betrieben</text>
<text x="11.6" y="509.4" font-family="'Liberation Mono', monospace" font-size="10.2" font-weight="bold" fill="#800000" textLength="20.9" lengthAdjust="spacingAndGlyphs" >z.B.</text>
<text x="36.7" y="509.4" font-family="'Liberation Mono', monospace" font-size="10.2" font-weight="bold" fill="#800000" textLength="11.9" lengthAdjust="spacingAndGlyphs" >an</text>
<text x="54.8" y="509.4" font-family="'Liberation Mono', monospace" font-size="10.2" font-weight="bold" fill="#800000" textLength="53.0" lengthAdjust="spacingAndGlyphs" >RN-Motor,</text>
<text x="111.8" y="509.4" font-family="'Liberation Mono', monospace" font-size="10.2" font-weight="bold" fill="#800000" textLength="74.7" lengthAdjust="spacingAndGlyphs" >RNBFRA-Board</text>
<path d="M36.00,517.40 L20.20,517.40 L20.20,571.80 L36.00,571.80" fill="none" stroke="#00008c" stroke-width="2.8" stroke-linecap="butt" stroke-linejoin="miter"/>
<path d="M8.00,545.10 L20.20,545.10" fill="none" stroke="#00008c" stroke-width="2.8" stroke-linecap="round" stroke-linejoin="round"/>
<path d="M36.00,563.50 L28.10,563.50 L28.10,619.10 L36.00,619.10" fill="none" stroke="#00008c" stroke-width="2.8" stroke-linecap="butt" stroke-linejoin="miter"/>
<path d="M8.00,595.60 L28.10,595.60" fill="none" stroke="#00008c" stroke-width="2.8" stroke-linecap="round" stroke-linejoin="round"/>
<path d="M90.90,650.00 L90.90,657.80 L146.10,657.80 L146.10,646.00" fill="none" stroke="#00008c" stroke-width="2.8" stroke-linecap="butt" stroke-linejoin="miter"/>
<path d="M114.70,657.80 L114.70,678.30" fill="none" stroke="#00008c" stroke-width="2.8" stroke-linecap="round" stroke-linejoin="round"/>
<path d="M138.60,649.00 L138.60,666.00 L193.40,666.00 L193.40,650.00" fill="none" stroke="#00008c" stroke-width="2.8" stroke-linecap="butt" stroke-linejoin="miter"/>
<path d="M170.00,666.00 L170.00,678.30" fill="none" stroke="#00008c" stroke-width="2.8" stroke-linecap="round" stroke-linejoin="round"/>
<line x1="43.10" y1="517.20" x2="52.40" y2="517.20" stroke="#870000" stroke-width="1.4" stroke-linecap="butt"/>
<line x1="52.40" y1="517.20" x2="76.20" y2="517.20" stroke="#008000" stroke-width="1.4" stroke-linecap="butt"/>
<circle cx="52.40" cy="517.20" r="0.8" fill="#000"/>
<line x1="43.10" y1="564.60" x2="52.40" y2="564.60" stroke="#870000" stroke-width="1.4" stroke-linecap="butt"/>
<line x1="52.40" y1="564.60" x2="76.20" y2="564.60" stroke="#008000" stroke-width="1.4" stroke-linecap="butt"/>
<circle cx="52.40" cy="564.60" r="0.8" fill="#000"/>
<line x1="43.10" y1="572.90" x2="52.40" y2="572.90" stroke="#870000" stroke-width="1.4" stroke-linecap="butt"/>
<line x1="52.40" y1="572.90" x2="76.20" y2="572.90" stroke="#008000" stroke-width="1.4" stroke-linecap="butt"/>
<circle cx="52.40" cy="572.90" r="0.8" fill="#000"/>
<line x1="43.10" y1="619.90" x2="52.40" y2="619.90" stroke="#870000" stroke-width="1.4" stroke-linecap="butt"/>
<line x1="52.40" y1="619.90" x2="76.20" y2="619.90" stroke="#008000" stroke-width="1.4" stroke-linecap="butt"/>
<circle cx="52.40" cy="619.90" r="0.8" fill="#000"/>
<line x1="75.50" y1="516.50" x2="75.50" y2="525.10" stroke="#870000" stroke-width="1.4" stroke-linecap="butt"/>
<path d="M75.50,525.10 L73.50,525.10 C70.60,525.70 70.60,532.30 73.50,532.90 L75.10,532.90 L73.50,532.90 C70.60,533.50 70.60,540.10 73.50,540.70 L75.10,540.70 L73.50,540.70 C70.60,541.30 70.60,547.90 73.50,548.50 L75.10,548.50 L73.50,548.50 C70.60,549.10 70.60,555.70 73.50,556.30 L75.50,556.30" fill="none" stroke="#870000" stroke-width="1.4" stroke-linejoin="round"/>
<line x1="75.50" y1="556.30" x2="75.50" y2="565.30" stroke="#870000" stroke-width="1.4" stroke-linecap="butt"/>
<line x1="75.50" y1="572.20" x2="75.50" y2="580.40" stroke="#870000" stroke-width="1.4" stroke-linecap="butt"/>
<path d="M75.50,580.40 L73.50,580.40 C70.60,581.00 70.60,587.55 73.50,588.15 L75.10,588.15 L73.50,588.15 C70.60,588.75 70.60,595.30 73.50,595.90 L75.10,595.90 L73.50,595.90 C70.60,596.50 70.60,603.05 73.50,603.65 L75.10,603.65 L73.50,603.65 C70.60,604.25 70.60,610.80 73.50,611.40 L75.50,611.40" fill="none" stroke="#870000" stroke-width="1.4" stroke-linejoin="round"/>
<line x1="75.50" y1="611.40" x2="75.50" y2="620.60" stroke="#870000" stroke-width="1.4" stroke-linecap="butt"/>
<circle cx="39.60" cy="517.20" r="3.6" fill="#fff" stroke="#870000" stroke-width="1.3"/>
<circle cx="39.60" cy="564.60" r="3.6" fill="#fff" stroke="#870000" stroke-width="1.3"/>
<circle cx="39.60" cy="572.90" r="3.6" fill="#fff" stroke="#870000" stroke-width="1.3"/>
<circle cx="39.60" cy="619.90" r="3.6" fill="#fff" stroke="#870000" stroke-width="1.3"/>
<circle cx="137.70" cy="572.90" r="35.1" fill="none" stroke="#870000" stroke-width="1.7"/>
<line x1="90.10" y1="619.70" x2="98.80" y2="619.70" stroke="#870000" stroke-width="1.4" stroke-linecap="butt"/>
<path d="M98.80,619.70 L98.80,616.50 C99.20,614.80 106.15,614.80 106.55,618.40 C106.95,614.80 113.90,614.80 114.30,618.40 C114.70,614.80 121.65,614.80 122.05,618.40 C122.45,614.80 129.40,614.80 129.80,616.50 L129.80,619.70" fill="none" stroke="#870000" stroke-width="1.4" stroke-linejoin="round"/>
<line x1="129.80" y1="619.70" x2="139.50" y2="619.70" stroke="#870000" stroke-width="1.4" stroke-linecap="butt"/>
<line x1="145.30" y1="619.70" x2="153.40" y2="619.70" stroke="#870000" stroke-width="1.4" stroke-linecap="butt"/>
<path d="M153.40,619.70 L153.40,616.50 C153.80,614.80 160.75,614.80 161.15,618.40 C161.55,614.80 168.50,614.80 168.90,618.40 C169.30,614.80 176.25,614.80 176.65,618.40 C177.05,614.80 184.00,614.80 184.40,616.50 L184.40,619.70" fill="none" stroke="#870000" stroke-width="1.4" stroke-linejoin="round"/>
<line x1="184.40" y1="619.70" x2="194.50" y2="619.70" stroke="#870000" stroke-width="1.4" stroke-linecap="butt"/>
<line x1="90.80" y1="619.00" x2="90.80" y2="635.60" stroke="#008000" stroke-width="1.4" stroke-linecap="butt"/>
<line x1="90.80" y1="635.60" x2="90.80" y2="643.70" stroke="#870000" stroke-width="1.4" stroke-linecap="butt"/>
<circle cx="90.80" cy="635.60" r="0.8" fill="#000"/>
<circle cx="90.80" cy="647.20" r="3.6" fill="#fff" stroke="#870000" stroke-width="1.3"/>
<line x1="138.80" y1="619.00" x2="138.80" y2="635.60" stroke="#008000" stroke-width="1.4" stroke-linecap="butt"/>
<line x1="138.80" y1="635.60" x2="138.80" y2="643.70" stroke="#870000" stroke-width="1.4" stroke-linecap="butt"/>
<circle cx="138.80" cy="635.60" r="0.8" fill="#000"/>
<circle cx="138.80" cy="647.20" r="3.6" fill="#fff" stroke="#870000" stroke-width="1.3"/>
<line x1="146.00" y1="619.00" x2="146.00" y2="635.60" stroke="#008000" stroke-width="1.4" stroke-linecap="butt"/>
<line x1="146.00" y1="635.60" x2="146.00" y2="643.70" stroke="#870000" stroke-width="1.4" stroke-linecap="butt"/>
<circle cx="146.00" cy="635.60" r="0.8" fill="#000"/>
<circle cx="146.00" cy="647.20" r="3.6" fill="#fff" stroke="#870000" stroke-width="1.3"/>
<line x1="193.80" y1="619.00" x2="193.80" y2="635.60" stroke="#008000" stroke-width="1.4" stroke-linecap="butt"/>
<line x1="193.80" y1="635.60" x2="193.80" y2="643.70" stroke="#870000" stroke-width="1.4" stroke-linecap="butt"/>
<circle cx="193.80" cy="635.60" r="0.8" fill="#000"/>
<circle cx="193.80" cy="647.20" r="3.6" fill="#fff" stroke="#870000" stroke-width="1.3"/>
<path d="M146.10,651.00 L146.10,646.00" fill="none" stroke="#00008c" stroke-width="2.8" stroke-linecap="butt" stroke-linejoin="round"/>
<path d="M382.30,412.00 L382.30,406.50" fill="none" stroke="#00008c" stroke-width="2.8" stroke-linecap="butt" stroke-linejoin="round"/>
<circle cx="382.3" cy="410.80" r="3.5" fill="none" stroke="#870000" stroke-width="1.3"/>
<circle cx="146.00" cy="647.20" r="3.5" fill="none" stroke="#870000" stroke-width="1.3"/>
<text transform="translate(215.0,526.4) scale(1,1.1)" font-family="Liberation Sans, sans-serif" font-size="22.2" fill="#b8b8b8">Schrittmotor</text>
<text transform="translate(355.0,528.4) scale(1,1.1)" font-family="Liberation Sans, sans-serif" font-size="21.9" fill="#b8b8b8">Schrittmotoransteuerung</text>
<defs>
  <filter id="soft" x="-10%" y="-10%" width="120%" height="120%"><feGaussianBlur stdDeviation="0.45"/></filter>
  <filter id="shad" x="-30%" y="-30%" width="160%" height="160%"><feGaussianBlur stdDeviation="3"/></filter>
  <linearGradient id="bodyg" x1="0" y1="0" x2="0" y2="1">
    <stop offset="0" stop-color="#2e2c2c"/>
    <stop offset="0.4" stop-color="#3c3a3a"/>
    <stop offset="0.6" stop-color="#6e6c6c"/>
    <stop offset="1" stop-color="#a8a6a6"/>
  </linearGradient>
  <linearGradient id="bodyh" x1="0" y1="0" x2="1" y2="0">
    <stop offset="0" stop-color="#000" stop-opacity="0.25"/>
    <stop offset="0.35" stop-color="#fff" stop-opacity="0.10"/>
    <stop offset="0.7" stop-color="#000" stop-opacity="0.0"/>
    <stop offset="1" stop-color="#000" stop-opacity="0.3"/>
  </linearGradient>
  <linearGradient id="flg" x1="0" y1="0" x2="1" y2="1">
    <stop offset="0" stop-color="#6a5652"/>
    <stop offset="0.5" stop-color="#57443f"/>
    <stop offset="1" stop-color="#4a3a36"/>
  </linearGradient>
  <linearGradient id="hs" x1="0" y1="0" x2="0" y2="1">
    <stop offset="0" stop-color="#262020"/>
    <stop offset="1" stop-color="#141010"/>
  </linearGradient>
</defs>
<!-- ===== Stepper motor ===== -->
<g filter="url(#soft)">
  <!-- shadow -->
  <ellipse cx="314" cy="602" rx="14" ry="30" fill="#c8c8c8" opacity="0.5" filter="url(#shad)"/>
  <!-- body cylinder -->
  <path d="M259.3,586 L259.3,603 Q262,614 289,618.5 Q312,617 317.5,606 L318.5,590 Z" fill="#575555"/>
  <!-- lower-left light end cap -->
  <path d="M259.3,598 Q262,612 289,618.5 Q305,618 312,612 Q290,612 275,606 Q264,601 259.3,596 Z" fill="#949292"/>
  <!-- dark stator band -->
  <path d="M259.3,586 L318.5,590 L318,600 Q300,606 288,604 Q268,600 259.3,595 Z" fill="#383636"/>
  <path d="M296,592 L318.5,590 L317.5,606 Q312,614 300,616 Q306,606 300,598 Z" fill="#2e2c2c" opacity="0.8"/>
  <path d="M259.3,586 L262,586 L262,604 L259.3,603 Z" fill="#8a8888" opacity="0.6"/>
  <!-- wire exit -->
  <path d="M275,609 L285,606.5 L287.5,615 L277.5,617.5 Z" fill="#141212"/>
  <!-- wires (bundle) -->
  <g fill="none" stroke-linecap="round">
    <path d="M279,615 C292,626 305,635 323,645" stroke="#cfcaca" stroke-width="4"/>
    <path d="M277.5,615.5 C290,627.5 303,637 320.5,646.5" stroke="#5aa870" stroke-width="1"/>
    <path d="M278.5,614.8 C291.5,626.5 304.5,636 322,645.5" stroke="#e8e4e4" stroke-width="0.9"/>
    <path d="M279.5,614.2 C292.5,625.5 305.5,635 323.5,644.5" stroke="#d06060" stroke-width="0.9"/>
    <path d="M280.5,613.6 C293.5,624.5 306.5,634 325,643.5" stroke="#f0eaea" stroke-width="0.9"/>
    <path d="M281.5,613 C294.5,623.5 307.5,633 326.5,642.5" stroke="#c84848" stroke-width="1"/>
  </g>
  <!-- flange side faces -->
  <path d="M253.6,577.5 L316.6,590.5 L325.7,549.5 L325.7,555.5 L317,597.7 L290,594.3 L254,585 Z" fill="#7a6e6a"/>
  <path d="M253.6,578 L316.6,590.5 L317,597.7 L290,594.3 L254,585 Z" fill="#857a76"/>
  <path d="M285,585.5 L300,588.5 L300,595 L285,592 Z" fill="#a49a96" opacity="0.8"/>
  <!-- flange top -->
  <path d="M271,537.6 L323.5,549 Q326,550 325.4,552 L317,589 Q316,591 313.5,590.4 L256,578.7 Q253.2,578 253.9,575.5 L266.5,540 Q267.5,537.2 271,537.6 Z" fill="#544240" stroke="#7a6a66" stroke-width="0.9"/>
  <!-- corner bright spots -->
  <circle cx="270.5" cy="540.5" r="2.4" fill="#8a7e7a"/>
  <circle cx="321.5" cy="552" r="2.4" fill="#8a7e7a"/>
  <circle cx="257.5" cy="576" r="2.4" fill="#8a7e7a"/>
  <circle cx="312" cy="587" r="2.4" fill="#9a908c"/>
  <!-- mounting holes -->
  <g fill="#2e2422" stroke="#86766f" stroke-width="0.9">
    <ellipse cx="276.7" cy="546" rx="2.1" ry="1.8"/>
    <ellipse cx="313.8" cy="554.4" rx="2.1" ry="1.8"/>
    <ellipse cx="266.2" cy="575.4" rx="2.1" ry="1.8"/>
    <ellipse cx="304.7" cy="584.5" rx="2.1" ry="1.8"/>
  </g>
  <!-- boss -->
  <ellipse cx="290" cy="564.2" rx="20.4" ry="15" fill="#645a56"/>
  <path d="M272,558 A20.4,15 0 0 1 309,560" fill="none" stroke="#8e8480" stroke-width="1.6"/>
  <ellipse cx="290.2" cy="564" rx="17" ry="11.7" fill="#4e4746"/>
  <ellipse cx="290.4" cy="564.2" rx="13.5" ry="9.4" fill="#5a5353"/>
  <ellipse cx="290.3" cy="564.5" rx="5" ry="3.6" fill="#2e2626"/>
  <!-- shaft -->
  <path d="M288.3,542 L292.6,542 L292.3,566 Q290.4,567.5 288.5,566 Z" fill="#8a8484"/>
  <path d="M289.3,542 L291.0,542 L290.9,566 L289.4,566 Z" fill="#b4aeac"/>
  <ellipse cx="290.45" cy="542" rx="2.1" ry="0.9" fill="#a8a2a0"/>
  <ellipse cx="290.4" cy="549.5" rx="2.6" ry="1.2" fill="#2e2424" opacity="0.7"/>
</g>
<!-- ===== Driver board ===== -->
<g filter="url(#soft)">
  <!-- shadow -->
  <path d="M432,586 L466,617 L548,590 L545,582 Z" fill="#cfcfcf" opacity="0.6" filter="url(#shad)"/>
  <!-- PCB -->
  <path d="M428.5,578.9 L500,548 L544.4,581 L544.6,584.5 L464.8,612.8 L428.5,581 Z" fill="#3e8e3e"/>
  <path d="M428.5,578.9 L464.8,610.8 L544.4,582.2 L544.6,585 L464.8,613.5 L428.5,581.5 Z" fill="#2a6a2a"/>
  <path d="M431.5,579.8 L465,608.8 L541,582.5" fill="none" stroke="#68b868" stroke-width="1" opacity="0.7"/>
  <!-- left tan component -->
  <path d="M432,562 L441,564 L441,582 L432,579 Z" fill="#b48c5c"/>
  <path d="M434,563 L437,564 L437,580 L434,579 Z" fill="#d0aa78"/>
  <!-- dark component zone in front of heatsink -->
  <path d="M436,575 L461,593 L466,599 L480,596 L498,592 L505,590 L523,585 L538,579 L538,566 L461,580 Z" fill="#1c1818"/>
  <!-- heatsink body -->
  <path d="M435.9,555.7 L508.7,540.5 L537.8,558 L537.8,566 L529,569 L464,587 L461,593 L436,575 Z" fill="url(#hs)"/>
  <!-- top face -->
  <path d="M435.9,555.7 L508.7,540.5 L537.8,558 L460,573 Z" fill="#252020"/>
  <!-- fins on top face -->
  <g stroke="#433c3c" stroke-width="0.7">
    <line x1="438.5" y1="557.3" x2="511.5" y2="542.2"/>
    <line x1="441.3" y1="559" x2="514.8" y2="544.2"/>
    <line x1="444.1" y1="560.7" x2="518.1" y2="546.2"/>
    <line x1="446.9" y1="562.4" x2="521.4" y2="548.2"/>
    <line x1="449.7" y1="564.1" x2="524.7" y2="550.2"/>
    <line x1="452.5" y1="565.8" x2="528" y2="552.2"/>
    <line x1="455.3" y1="567.5" x2="531.3" y2="554.2"/>
    <line x1="458.1" y1="569.2" x2="534.6" y2="556.2"/>
  </g>
  <!-- fins on left face (vertical) -->
  <g stroke="#3c3636" stroke-width="0.8">
    <line x1="439.5" y1="559" x2="439.5" y2="577"/>
    <line x1="443" y1="561" x2="443" y2="580"/>
    <line x1="446.5" y1="563" x2="446.5" y2="583"/>
    <line x1="450" y1="565" x2="450" y2="585.5"/>
    <line x1="453.5" y1="567.5" x2="453.5" y2="588"/>
    <line x1="457" y1="570" x2="457" y2="590.5"/>
  </g>
  <!-- blue capacitor -->
  <rect x="441.5" y="576" width="8.7" height="11.7" rx="2.2" fill="#3444b0"/>
  <rect x="443" y="577.2" width="2.6" height="9" fill="#6a78d8"/>
  <!-- white part -->
  <ellipse cx="455" cy="590.5" rx="2.8" ry="3.2" fill="#d4d4d4"/>
  <!-- chips (TO-220) -->
  <!-- pins regions -->
  <path d="M479,596 L498,591 L498,600 L479,605 Z" fill="#aab4aa"/>
  <path d="M505.5,589 L523,584.5 L523,592.5 L505.5,597 Z" fill="#aab4aa"/>
  <rect x="479.5" y="584" width="18" height="12.5" fill="#3a3838"/>
  <rect x="479.5" y="577.8" width="18" height="7" fill="#d8d8d8"/>
  <rect x="481" y="579" width="15" height="2" fill="#f0f0f0"/>
  <circle cx="488.5" cy="580.5" r="1.4" fill="#a89868"/>
  <rect x="506" y="577.8" width="16.8" height="11.5" fill="#3a3838"/>
  <rect x="506" y="569.5" width="16.8" height="8.5" fill="#d8d8d8"/>
  <rect x="507.5" y="570.8" width="14" height="2" fill="#f0f0f0"/>
  <circle cx="514.5" cy="572.8" r="1.4" fill="#a89868"/>
  <!-- chip pins -->
  <g stroke="#7a847a" stroke-width="0.6">
    <line x1="481" y1="596.5" x2="481" y2="604"/><line x1="483" y1="596.5" x2="483" y2="603.5"/><line x1="485" y1="596.5" x2="485" y2="603"/><line x1="487" y1="596.5" x2="487" y2="602.5"/><line x1="489" y1="596.5" x2="489" y2="602"/><line x1="491" y1="596.5" x2="491" y2="601.5"/><line x1="493" y1="596.5" x2="493" y2="601"/><line x1="495" y1="596.5" x2="495" y2="600.5"/>
    <line x1="507.5" y1="589.3" x2="507.5" y2="596"/><line x1="509.5" y1="589.3" x2="509.5" y2="595.5"/><line x1="511.5" y1="589.3" x2="511.5" y2="595"/><line x1="513.5" y1="589.3" x2="513.5" y2="594.5"/><line x1="515.5" y1="589.3" x2="515.5" y2="594"/><line x1="517.5" y1="589.3" x2="517.5" y2="593.5"/><line x1="519.5" y1="589.3" x2="519.5" y2="593"/><line x1="521.5" y1="589.3" x2="521.5" y2="592.5"/>
  </g>
  <!-- terminal blocks -->
  <path d="M465,597 L484,592 L484.5,603 L466,608.5 Z" fill="#141414"/>
  <g fill="#e4e4e4">
    <rect x="466.6" y="601.6" width="2.5" height="3.3"/>
    <rect x="470.9" y="600.4" width="2.5" height="3.3"/>
    <rect x="475.2" y="599.2" width="2.5" height="3.3"/>
    <rect x="479.5" y="598" width="2.5" height="3.3"/>
  </g>
  <!-- right dark connector area -->
  <path d="M527,575 L538,569 L542.5,582 L530,588.5 Z" fill="#1a1a1a"/>
  <!-- standoff -->
  <rect x="504.2" y="585" width="3.4" height="20" fill="#cac6b8"/>
  <rect x="505.9" y="585" width="1.5" height="20" fill="#8a8678"/>
  <!-- red wire -->
  <path d="M530.3,587.4 L540.9,578" stroke="#d82020" stroke-width="1.5" fill="none"/>
  <!-- small blue parts -->
  <rect x="522.5" y="580" width="2.5" height="3" fill="#3aa0d8"/>
  <rect x="535" y="578" width="2" height="3" fill="#3a70c8"/>
  <!-- yellow wire -->
  <path d="M532,537 C529,545 528,555 531.5,562 C535,568 541,573 545.5,582.7" stroke="#e8c060" stroke-width="1.1" fill="none"/>
</g>

</svg>
</body></html>
